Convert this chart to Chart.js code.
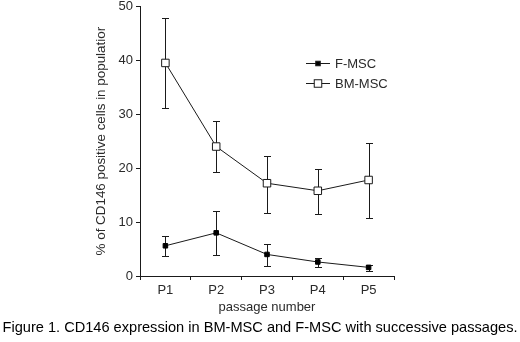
<!DOCTYPE html>
<html>
<head>
<meta charset="utf-8">
<script src="https://cdn.jsdelivr.net/npm/chart.js@4/dist/chart.umd.min.js"></script>
<style>
  html, body { margin: 0; padding: 0; background: #fff; }
  #wrap { width: 520px; height: 342px; }
</style>
</head>
<body>
<div id="wrap"><canvas id="chart" width="520" height="342"></canvas></div>
<script>
const categories = ['P1', 'P2', 'P3', 'P4', 'P5'];
const fMsc = [5.6, 8.0, 4.0, 2.6, 1.6];
const fMscLow = [3.7, 3.9, 1.9, 1.6, 0.9];
const fMscHigh = [7.4, 12.0, 6.0, 3.4, 2.0];
const bmMsc = [39.5, 24.0, 17.2, 15.8, 17.8];
const bmMscLow = [31.1, 19.2, 11.7, 11.5, 10.8];
const bmMscHigh = [47.9, 28.7, 22.3, 19.8, 24.6];
const yTicks = [0, 10, 20, 30, 40, 50];

const FONT = '"Liberation Sans", Arial, sans-serif';
const INK = '#1a1a1a';
const TEXT = '#2a2a2a';

// error bars, drawn under the markers
const errorBars = {
    id: 'errorBars',
    beforeDatasetsDraw(chart) {
        const ctx = chart.ctx;
        const y = chart.scales.y;
        ctx.save();
        ctx.strokeStyle = INK;
        ctx.lineWidth = 1;
        chart.data.datasets.forEach((ds, d) => {
            const meta = chart.getDatasetMeta(d);
            meta.data.forEach((pt, i) => {
                const x = Math.round(pt.x) + 0.5;
                const top = Math.round(y.getPixelForValue(ds.errHigh[i])) + 0.5;
                const bot = Math.round(y.getPixelForValue(ds.errLow[i])) + 0.5;
                ctx.beginPath();
                ctx.moveTo(x, top); ctx.lineTo(x, bot);
                ctx.moveTo(x - 3.5, top); ctx.lineTo(x + 3.5, top);
                ctx.moveTo(x - 3.5, bot); ctx.lineTo(x + 3.5, bot);
                ctx.stroke();
            });
        });
        ctx.restore();
    }
};

// legend inside the plot + figure caption
const extras = {
    id: 'extras',
    afterDraw(chart) {
        const ctx = chart.ctx;
        ctx.save();
        ctx.font = '13px ' + FONT;
        ctx.textBaseline = 'middle';
        chart.data.datasets.forEach((ds, d) => {
            const ly = 63 + d * 20;
            ctx.strokeStyle = INK;
            ctx.lineWidth = 1;
            ctx.beginPath();
            ctx.moveTo(306, ly + 0.5); ctx.lineTo(330, ly + 0.5);
            ctx.stroke();
            const s = ds.pointRadius * Math.SQRT1_2;
            ctx.fillStyle = ds.pointBackgroundColor;
            ctx.fillRect(318 - s, ly - s + 0.5, 2 * s, 2 * s);
            ctx.strokeRect(318 - s, ly - s + 0.5, 2 * s, 2 * s);
            ctx.fillStyle = TEXT;
            ctx.textAlign = 'left';
            ctx.fillText(ds.label, 335, ly + 1);
        });
        ctx.font = '14.6px ' + FONT;
        ctx.fillStyle = '#000';
        ctx.textAlign = 'center';
        ctx.fillText('Figure 1. CD146 expression in BM-MSC and F-MSC with successive passages.', 260, 328);
        ctx.restore();
    }
};

new Chart(document.getElementById('chart'), {
    type: 'line',
    data: {
        labels: categories,
        datasets: [
            {
                label: 'F-MSC',
                data: fMsc,
                errLow: fMscLow,
                errHigh: fMscHigh,
                borderColor: INK,
                borderWidth: 1,
                pointStyle: 'rect',
                pointRadius: 3.2,
                pointBackgroundColor: '#000',
                pointBorderColor: '#000',
                pointBorderWidth: 1,
                tension: 0
            },
            {
                label: 'BM-MSC',
                data: bmMsc,
                errLow: bmMscLow,
                errHigh: bmMscHigh,
                borderColor: INK,
                borderWidth: 1,
                pointStyle: 'rect',
                pointRadius: 5.3,
                pointBackgroundColor: '#fff',
                pointBorderColor: INK,
                pointBorderWidth: 1,
                tension: 0
            }
        ]
    },
    options: {
        responsive: false,
        animation: false,
        layout: { padding: { left: 93, top: 5, right: 126, bottom: 24 } },
        plugins: {
            legend: { display: false },
            tooltip: { enabled: false }
        },
        scales: {
            x: {
                offset: true,
                grid: { display: true, offset: true, drawOnChartArea: false, tickLength: 4, color: INK },
                border: { display: true, color: INK, width: 1 },
                ticks: { color: TEXT, padding: 3, font: { family: FONT, size: 13 } },
                title: {
                    display: true,
                    text: 'passage number',
                    color: TEXT,
                    padding: { top: 0, bottom: 3 },
                    font: { family: FONT, size: 13 }
                },
                afterFit(scale) {
                    scale.height = 42;
                    scale.paddingLeft = 0;
                    scale.paddingRight = 0;
                }
            },
            y: {
                min: 0,
                max: 50,
                afterBuildTicks(scale) {
                    scale.ticks = yTicks.map(v => ({ value: v }));
                },
                grid: { display: true, drawOnChartArea: false, tickLength: 4, color: INK },
                border: { display: true, color: INK, width: 1 },
                ticks: { color: TEXT, padding: 3, font: { family: FONT, size: 13 } },
                title: {
                    display: true,
                    text: '% of CD146 positive cells in populatior',
                    color: TEXT,
                    padding: 0,
                    font: { family: FONT, size: 13.4 }
                },
                afterFit(scale) {
                    scale.width = 47;
                    scale.paddingTop = 0;
                    scale.paddingBottom = 0;
                }
            }
        }
    },
    plugins: [errorBars, extras]
});
</script>
</body>
</html>
